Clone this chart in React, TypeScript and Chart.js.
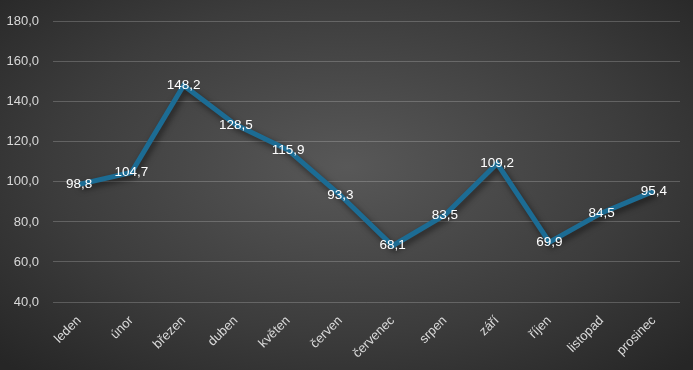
import React, { useEffect, useRef } from "react";
import { Chart, registerables } from "chart.js";

Chart.register(...registerables);

const categories = ["leden", "únor", "březen", "duben", "květen", "červen", "červenec", "srpen", "září", "říjen", "listopad", "prosinec"];
const values = [98.8, 104.7, 148.2, 128.5, 115.9, 93.3, 68.1, 83.5, 109.2, 69.9, 84.5, 95.4];
const yMin = 40;
const yMax = 180;
const yStep = 20;

const fmt = (v: number) => v.toFixed(1).replace(".", ",");

const FONT = "'Liberation Sans', Arial, sans-serif";

const shadowPlugin = {
  id: "lineShadow",
  beforeDatasetDraw(chart: any) {
    const ctx = chart.ctx;
    ctx.save();
    ctx.shadowColor = "rgba(0,0,0,0.55)";
    ctx.shadowBlur = 6;
    ctx.shadowOffsetX = 2;
    ctx.shadowOffsetY = 3;
  },
  afterDatasetDraw(chart: any) {
    chart.ctx.restore();
  },
};

const labelPlugin = {
  id: "valueLabels",
  afterDatasetsDraw(chart: any) {
    const ctx = chart.ctx;
    const meta = chart.getDatasetMeta(0);
    ctx.save();
    ctx.font = `13.5px ${FONT}`;
    ctx.fillStyle = "#ffffff";
    ctx.textAlign = "center";
    ctx.textBaseline = "middle";
    meta.data.forEach((pt: any, i: number) => {
      ctx.fillText(fmt(values[i]), pt.x, pt.y);
    });
    ctx.restore();
  },
};

export default function App() {
  const ref = useRef<HTMLCanvasElement>(null);
  useEffect(() => {
    document.body.style.margin = "0";
    const chart = new Chart(ref.current!, {
      type: "line",
      data: {
        labels: categories,
        datasets: [
          {
            data: values,
            borderColor: "#1c6c94",
            borderWidth: 5,
            pointRadius: 0,
            tension: 0,
            borderJoinStyle: "miter",
          },
        ],
      },
      options: {
        animation: false,
        responsive: false,
        layout: { padding: { top: 20, right: 13, left: 0, bottom: 0 } },
        plugins: { legend: { display: false }, tooltip: { enabled: false } },
        scales: {
          x: {
            offset: true,
            grid: { display: false },
            border: { display: false },
            ticks: {
              color: "#d9d9d9",
              font: { size: 13, family: FONT },
              minRotation: 45,
              maxRotation: 45,
              autoSkip: false,
              padding: 3,
            },
            afterFit(scale: any) {
              scale.height = 68;
            },
          },
          y: {
            min: yMin,
            max: yMax,
            grid: { color: "rgba(255,255,255,0.2)", drawTicks: false },
            border: { display: false },
            ticks: {
              stepSize: yStep,
              color: "#d9d9d9",
              font: { size: 13, family: FONT },
              padding: 14,
              callback: (v: any) => fmt(Number(v)),
            },
            afterFit(scale: any) {
              scale.width = 53;
            },
          },
        },
      },
      plugins: [shadowPlugin, labelPlugin],
    });
    return () => chart.destroy();
  }, []);
  return (
    <div
      style={{
        position: "fixed",
        left: 0,
        top: 0,
        width: 693,
        height: 370,
        background: "radial-gradient(ellipse 70% 75% at 50% 45%, #585858 0%, #3c3c3c 60%, #262626 100%)",
      }}
    >
      <canvas ref={ref} width={693} height={370} />
    </div>
  );
}
